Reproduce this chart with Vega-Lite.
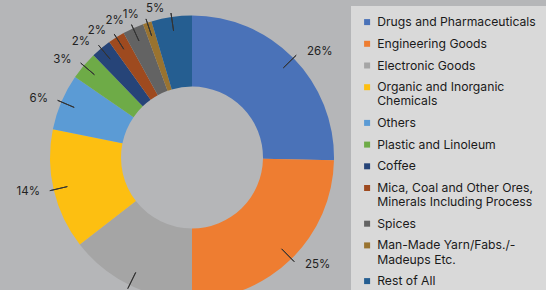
{
  "$schema": "https://vega.github.io/schema/vega-lite/v6.json",
  "width": 384,
  "height": 315,
  "padding": 0,
  "background": "#b5b6b8",
  "config": {"view": {"stroke": null}, "font": "Inter"},
  "data": {
    "values": [
      {"category": "Drugs and Pharmaceuticals", "share": 25.3, "label": "26%", "rank": 1},
      {"category": "Engineering Goods", "share": 24.7, "label": "25%", "rank": 2},
      {"category": "Electronic Goods", "share": 14.5, "label": "14%", "rank": 3},
      {"category": "Organic and Inorganic Chemicals", "share": 13.7, "label": "14%", "rank": 4},
      {"category": "Others", "share": 6.4, "label": "6%", "rank": 5},
      {"category": "Plastic and Linoleum", "share": 3.2, "label": "3%", "rank": 6},
      {"category": "Coffee", "share": 2.3, "label": "2%", "rank": 7},
      {"category": "Mica, Coal and Other Ores, Minerals Including Process", "share": 1.9, "label": "2%", "rank": 8},
      {"category": "Spices", "share": 2.4, "label": "2%", "rank": 9},
      {"category": "Man-Made Yarn/Fabs./-Madeups Etc.", "share": 1.0, "label": "1%", "rank": 10},
      {"category": "Rest of All", "share": 4.6, "label": "5%", "rank": 11}
    ]
  },
  "encoding": {
    "theta": {"field": "share", "type": "quantitative", "stack": true},
    "order": {"field": "rank", "type": "quantitative"}
  },
  "layer": [
    {
      "mark": {"type": "arc", "radius": 142, "radius2": 71},
      "encoding": {
        "color": {
          "field": "category",
          "type": "nominal",
          "scale": {
            "domain": ["Drugs and Pharmaceuticals", "Engineering Goods", "Electronic Goods", "Organic and Inorganic Chemicals", "Others", "Plastic and Linoleum", "Coffee", "Mica, Coal and Other Ores, Minerals Including Process", "Spices", "Man-Made Yarn/Fabs./-Madeups Etc.", "Rest of All"],
            "range": ["#4a72b8", "#ee7d31", "#a5a5a5", "#fdbf11", "#5b9bd5", "#6eab47", "#264478", "#9e4a1f", "#636363", "#997330", "#255e91"]
          },
          "legend": {
            "orient": "none",
            "legendX": 351,
            "legendY": 6,
            "title": null,
            "symbolType": "square",
            "symbolSize": 36,
            "symbolStrokeWidth": 0,
            "labelFontSize": 12.2,
            "labelColor": "#1a1a1a",
            "labelFont": "Inter",
            "labelLimit": 300,
            "rowPadding": 8.7,
            "labelOffset": 4,
            "padding": 10,
            "fillColor": "#d9d9d9",
            "labelLineHeight": 15.5,
            "labelExpr": "datum.label == 'Organic and Inorganic Chemicals' ? ['Organic and Inorganic', 'Chemicals'] : datum.label == 'Mica, Coal and Other Ores, Minerals Including Process' ? ['Mica, Coal and Other Ores,', 'Minerals Including Process'] : datum.label == 'Man-Made Yarn/Fabs./-Madeups Etc.' ? ['Man-Made Yarn/Fabs./-', 'Madeups Etc.'] : datum.label"
          }
        }
      }
    },
    {
      "mark": {"type": "arc", "radius": 146, "radius2": 128, "padAngle": 1.4, "filled": false, "stroke": "#333333", "strokeWidth": 1},
      "encoding": {"detail": {"field": "category", "type": "nominal"}}
    },
    {
      "mark": {"type": "text", "radius": 150, "align": "left", "dx": 8, "fontSize": 11.5, "color": "#222222", "font": "Inter"},
      "encoding": {
        "detail": {"field": "category", "type": "nominal"},
        "text": {"condition": {"test": "datum.rank <= 2", "field": "label"}, "value": ""}
      }
    },
    {
      "mark": {"type": "text", "radius": 150, "align": "right", "dx": -6, "fontSize": 11.5, "color": "#222222", "font": "Inter"},
      "encoding": {
        "detail": {"field": "category", "type": "nominal"},
        "text": {"condition": {"test": "datum.rank > 3", "field": "label"}, "value": ""}
      }
    }
  ]
}
